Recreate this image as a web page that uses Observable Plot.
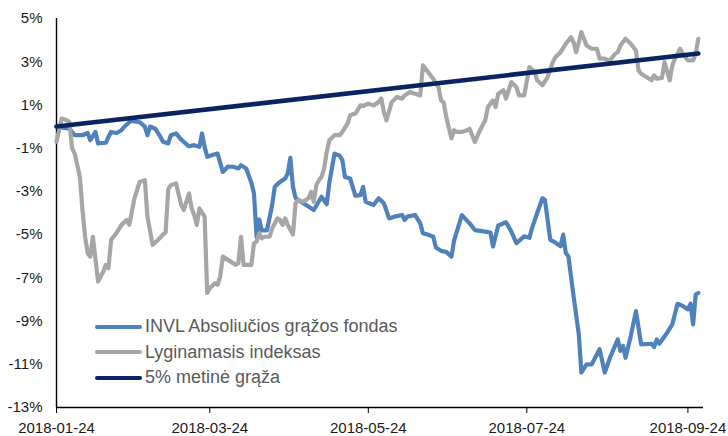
<!DOCTYPE html>
<html><head><meta charset="utf-8">
<script src="https://cdn.jsdelivr.net/npm/d3@7"></script>
<script src="https://cdn.jsdelivr.net/npm/@observablehq/plot@0.6"></script>
<style>
body{margin:0;background:#fff;}
#wrap{position:relative;width:728px;height:436px;font-family:"Liberation Sans",Arial,sans-serif;}
#legend{position:absolute;left:95px;top:314px;font-size:18px;color:#595959;line-height:25.5px;}
.row{display:flex;align-items:center;white-space:nowrap;}
.sw{width:47px;height:4px;border-radius:2px;margin-right:3px;}
</style></head><body><div id="wrap"></div>
<script>
const seriesNames = ["INVL Absoliučios grąžos fondas", "Lyginamasis indeksas", "5% metinė grąža"];
const seriesColors = ["#4f81bd", "#a6a6a6", "#0c2362"];
const seriesWidths = [4.2, 4.2, 4.6];

const xDomain = ["2018-01-24", "2018-09-30"];
const xTicks = ["2018-01-24", "2018-03-24", "2018-05-24", "2018-07-24", "2018-09-24"];
const yTicks = [-13, -11, -9, -7, -5, -3, -1, 1, 3, 5];

const fundDates = ["2018-01-24","2018-01-29","2018-01-31","2018-02-03","2018-02-05","2018-02-06","2018-02-08","2018-02-09","2018-02-12","2018-02-13","2018-02-14","2018-02-16","2018-02-18","2018-02-19","2018-02-21","2018-02-22","2018-02-25","2018-02-27","2018-02-28","2018-03-01","2018-03-03","2018-03-05","2018-03-06","2018-03-08","2018-03-09","2018-03-11","2018-03-13","2018-03-15","2018-03-16","2018-03-18","2018-03-20","2018-03-21","2018-03-22","2018-03-23","2018-03-25","2018-03-27","2018-03-29","2018-03-31","2018-04-02","2018-04-04","2018-04-05","2018-04-07","2018-04-09","2018-04-10","2018-04-11","2018-04-12","2018-04-13","2018-04-15","2018-04-17","2018-04-18","2018-04-20","2018-04-22","2018-04-23","2018-04-24","2018-04-25","2018-04-26","2018-04-27","2018-04-29","2018-05-02","2018-05-03","2018-05-06","2018-05-08","2018-05-09","2018-05-11","2018-05-13","2018-05-14","2018-05-15","2018-05-17","2018-05-19","2018-05-21","2018-05-22","2018-05-23","2018-05-26","2018-05-28","2018-05-30","2018-06-01","2018-06-03","2018-06-06","2018-06-07","2018-06-08","2018-06-11","2018-06-13","2018-06-14","2018-06-16","2018-06-18","2018-06-19","2018-06-21","2018-06-23","2018-06-25","2018-06-26","2018-06-29","2018-07-02","2018-07-04","2018-07-08","2018-07-10","2018-07-11","2018-07-13","2018-07-16","2018-07-18","2018-07-20","2018-07-23","2018-07-25","2018-07-26","2018-07-28","2018-07-30","2018-07-31","2018-08-02","2018-08-03","2018-08-06","2018-08-07","2018-08-08","2018-08-09","2018-08-11","2018-08-13","2018-08-14","2018-08-16","2018-08-18","2018-08-21","2018-08-23","2018-08-25","2018-08-28","2018-08-29","2018-08-30","2018-08-31","2018-09-02","2018-09-04","2018-09-06","2018-09-10","2018-09-11","2018-09-12","2018-09-13","2018-09-16","2018-09-18","2018-09-20","2018-09-22","2018-09-24","2018-09-25","2018-09-26","2018-09-27","2018-09-28"];
const fundValues = [0,-0.1,-0.4,-0.4,-0.3,-0.63,-0.25,-0.78,-0.75,-0.48,-0.25,-0.3,-0.17,-0.02,0.2,0.26,0.2,0,-0.4,0,-0.1,-0.48,-0.7,-0.78,-0.4,-0.32,-0.6,-0.82,-0.91,-0.86,-0.94,-0.32,-0.94,-1.4,-1.32,-1.25,-2.1,-1.85,-1.86,-1.94,-1.79,-1.94,-2.6,-3.1,-5.1,-4.3,-4.8,-4.8,-3.63,-2.79,-2.56,-2.4,-2.17,-1.45,-2.79,-3.3,-3.4,-3.55,-3.78,-3.86,-3.25,-3.6,-2.6,-1.25,-1.35,-1.55,-2.33,-2.4,-3.2,-3.17,-2.79,-3.48,-3.63,-3.32,-3.55,-4.25,-4.17,-4.09,-4.32,-4.17,-4.09,-4.48,-4.94,-5.0,-5.1,-5.6,-5.75,-5.8,-6.02,-5.28,-4.1,-4.48,-4.79,-4.86,-4.9,-5.55,-4.58,-4.43,-4.85,-5.39,-5.08,-5.15,-4.7,-4.0,-3.32,-3.4,-5.23,-5.3,-5.54,-5.0,-5.85,-6.0,-7.85,-9.6,-11.38,-11.0,-11.0,-10.3,-11.38,-10.7,-9.85,-10.38,-10.15,-10.7,-9.7,-8.54,-10.08,-10.05,-10.2,-9.85,-10.05,-9.54,-9.15,-8.2,-8.3,-8.46,-8.2,-9.15,-7.77,-7.7];

const indexDates = ["2018-01-24","2018-01-26","2018-01-28","2018-01-29","2018-01-30","2018-01-31","2018-02-02","2018-02-03","2018-02-04","2018-02-05","2018-02-06","2018-02-07","2018-02-09","2018-02-11","2018-02-12","2018-02-13","2018-02-14","2018-02-16","2018-02-18","2018-02-20","2018-02-21","2018-02-23","2018-02-25","2018-02-27","2018-02-28","2018-03-02","2018-03-04","2018-03-06","2018-03-07","2018-03-08","2018-03-09","2018-03-11","2018-03-13","2018-03-14","2018-03-16","2018-03-17","2018-03-18","2018-03-19","2018-03-20","2018-03-22","2018-03-23","2018-03-24","2018-03-26","2018-03-27","2018-03-28","2018-03-29","2018-03-31","2018-04-03","2018-04-04","2018-04-05","2018-04-06","2018-04-09","2018-04-10","2018-04-11","2018-04-12","2018-04-13","2018-04-14","2018-04-16","2018-04-17","2018-04-19","2018-04-20","2018-04-21","2018-04-22","2018-04-23","2018-04-25","2018-04-26","2018-04-27","2018-04-29","2018-05-01","2018-05-02","2018-05-03","2018-05-04","2018-05-05","2018-05-06","2018-05-07","2018-05-08","2018-05-09","2018-05-11","2018-05-13","2018-05-14","2018-05-16","2018-05-17","2018-05-19","2018-05-21","2018-05-22","2018-05-24","2018-05-26","2018-05-28","2018-05-29","2018-05-30","2018-05-31","2018-06-02","2018-06-04","2018-06-06","2018-06-07","2018-06-09","2018-06-11","2018-06-13","2018-06-14","2018-06-16","2018-06-18","2018-06-20","2018-06-21","2018-06-22","2018-06-23","2018-06-25","2018-06-26","2018-06-27","2018-06-29","2018-07-01","2018-07-02","2018-07-04","2018-07-06","2018-07-08","2018-07-09","2018-07-11","2018-07-12","2018-07-13","2018-07-15","2018-07-16","2018-07-18","2018-07-20","2018-07-21","2018-07-23","2018-07-25","2018-07-27","2018-07-28","2018-07-30","2018-08-01","2018-08-03","2018-08-04","2018-08-06","2018-08-08","2018-08-10","2018-08-11","2018-08-12","2018-08-14","2018-08-16","2018-08-18","2018-08-20","2018-08-21","2018-08-23","2018-08-25","2018-08-27","2018-08-28","2018-08-29","2018-08-31","2018-09-02","2018-09-04","2018-09-05","2018-09-06","2018-09-08","2018-09-10","2018-09-11","2018-09-12","2018-09-14","2018-09-15","2018-09-17","2018-09-18","2018-09-19","2018-09-21","2018-09-22","2018-09-24","2018-09-26","2018-09-27","2018-09-28"];
const indexValues = [-0.7,0.37,0.29,0.2,-1.0,-1.25,-2.33,-3.86,-5.1,-5.86,-6.02,-5.1,-7.17,-6.71,-6.4,-6.55,-5.25,-4.94,-4.55,-4.32,-4.55,-3.32,-2.56,-2.48,-4.17,-5.48,-5.25,-5.0,-4.9,-2.9,-2.71,-2.63,-3.63,-3.86,-3.09,-3.78,-4.09,-4.55,-3.78,-4.17,-7.7,-7.48,-7.25,-7.32,-6.94,-6.02,-6.17,-6.4,-6.32,-5.1,-6.4,-6.4,-5.4,-5.33,-4.94,-5.17,-5.1,-5.1,-4.71,-4.25,-4.32,-4.55,-4.25,-4.55,-5.0,-3.55,-3.4,-3.48,-3.32,-3.02,-3.48,-2.71,-2.48,-2.33,-1.94,-1.17,-0.63,-0.4,-0.4,-0.25,0.14,0.52,0.6,0.98,0.95,1.06,0.98,1.13,1.3,0.67,0.29,1.13,1.37,1.29,1.44,1.6,1.52,1.44,2.83,2.52,2.21,1.83,1.21,1.13,0.44,-0.55,-0.17,-0.25,-0.25,-0.17,-0.1,-0.71,-0.17,0.29,0.9,1.21,0.9,1.52,1.68,1.29,2.06,1.83,1.44,1.44,2.75,2.52,2.14,1.91,2.29,2.98,3.21,3.44,3.83,4.13,3.9,3.44,4.37,3.75,3.6,3.6,3.14,3.14,3.06,3.37,3.44,3.75,4.06,3.83,3.52,2.6,2.44,2.29,2.14,2.37,2.21,2.25,2.98,2.14,2.83,3.14,3.6,3.37,3.06,3.06,3.37,4.06];

const benchDates = ["2018-01-24", "2018-09-28"];
const benchValues = [0, 3.38];

const parse = d3.utcParse("%Y-%m-%d");
const toRows = (name, dates, values) => dates.map((d, i) => ({series: name, date: parse(d), value: values[i]}));
const fund = toRows(seriesNames[0], fundDates, fundValues);
const index = toRows(seriesNames[1], indexDates, indexValues);
const bench = toRows(seriesNames[2], benchDates, benchValues);

const lineOpts = (i) => ({x: "date", y: "value", stroke: seriesColors[i], strokeWidth: seriesWidths[i], strokeLinejoin: "round", strokeLinecap: "round"});

const chart = Plot.plot({
  width: 728,
  height: 436,
  marginLeft: 56,
  marginRight: 25,
  marginTop: 18,
  marginBottom: 29,
  style: {fontFamily: "'Liberation Sans', Arial, sans-serif", fontSize: "15px", color: "#1a1a1a", background: "#fff", overflow: "visible"},
  x: {type: "utc", domain: xDomain.map(parse)},
  y: {domain: [yTicks[0], yTicks[yTicks.length - 1]]},
  marks: [
    Plot.axisY({ticks: yTicks, tickSize: 0, tickPadding: 14, tickFormat: d => d + "%", label: null, fontSize: 15}),
    Plot.axisX({ticks: xTicks.map(parse), tickSize: 6, tickPadding: 9, tickFormat: d3.utcFormat("%Y-%m-%d"), label: null, fontSize: 15, stroke: "#000"}),
    Plot.ruleX([parse(xDomain[0])], {stroke: "#000", strokeWidth: 1.4}),
    Plot.ruleY([yTicks[0]], {stroke: "#000", strokeWidth: 1.4}),
    Plot.line(fund, lineOpts(0)),
    Plot.line(index, lineOpts(1)),
    Plot.line(bench, lineOpts(2))
  ]
});

const wrap = document.getElementById("wrap");
wrap.appendChild(chart);

const legend = document.createElement("div");
legend.id = "legend";
seriesNames.forEach((name, i) => {
  const row = document.createElement("div");
  row.className = "row";
  const sw = document.createElement("span");
  sw.className = "sw";
  sw.style.background = seriesColors[i];
  const tx = document.createElement("span");
  tx.textContent = name;
  row.appendChild(sw);
  row.appendChild(tx);
  legend.appendChild(row);
});
wrap.appendChild(legend);
</script></body></html>
